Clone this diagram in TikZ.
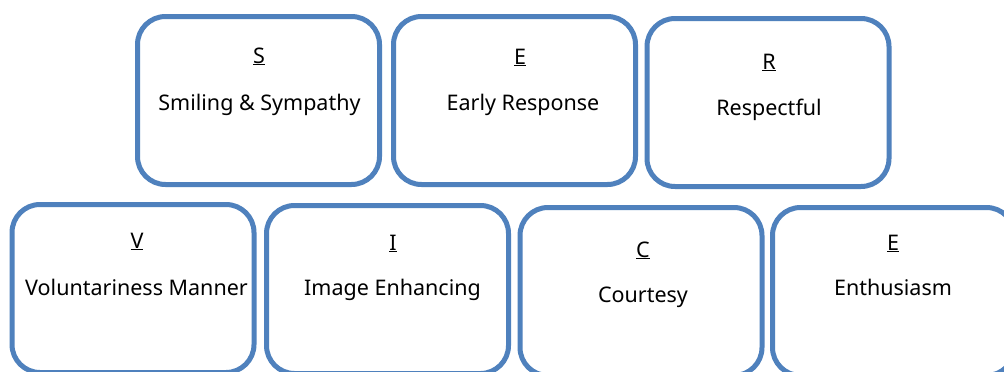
\documentclass[tikz,border=0pt]{standalone}
\usepackage{fontspec}
\setmainfont{Noto Sans}
\definecolor{boxblue}{RGB}{79,129,189}
\begin{document}
\begin{tikzpicture}[x=1pt,y=-1pt,
  card/.style={draw=boxblue, line width=5pt, fill=white, rounded corners=28pt,
    minimum width=242pt, minimum height=168pt, inner sep=0pt},
  lbl/.style={anchor=base, inner sep=0pt, font=\fontsize{21.5}{25}\selectfont, text=black}]
\useasboundingbox (0,0) rectangle (1004,372);
\clip (0,0) rectangle (1004,372);
\fill[white] (0,0) rectangle (1004,372);
% top row
\node[card] (bS) at (258.5,100.5) {};
\node[card] (bE1) at (514.5,100.5) {};
\node[card] (bR) at (768,102.5) {};
% bottom row
\node[card] (bV) at (133,288.5) {};
\node[card] (bI) at (387.5,289.5) {};
\node[card] (bC) at (641,291.5) {};
\node[card] (bE2) at (893.5,291.5) {};
% texts
\node[lbl] (lS) at (259,63) {\underline{S}};
\node[lbl] (tS) at (259.5,110) {Smiling \& Sympathy};
\node[lbl] (lE1) at (520,64) {\underline{E}};
\node[lbl] (tE1) at (523,110) {Early Response};
\node[lbl] (lR) at (769,69) {\underline{R}};
\node[lbl] (tR) at (769,115) {Respectful};
\node[lbl] (lV) at (137,248) {\underline{V}};
\node[lbl] (tV) at (136.5,295) {Voluntariness Manner};
\node[lbl] (lI) at (393,250) {\underline{I}};
\node[lbl] (tI) at (392.5,295) {Image Enhancing};
\node[lbl] (lC) at (643,257) {\underline{C}};
\node[lbl] (tC) at (643,302) {Courtesy};
\node[lbl] (lE2) at (893,250) {\underline{E}};
\node[lbl] (tE2) at (893,295) {Enthusiasm};
\end{tikzpicture}
\end{document}
